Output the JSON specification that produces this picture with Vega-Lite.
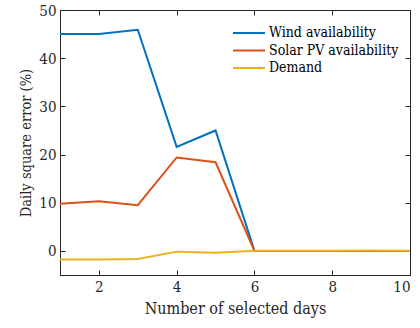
{
  "$schema": "https://vega.github.io/schema/vega-lite/v6.json",
  "autosize": {"type": "none"},
  "padding": {"left": 60, "top": 10, "right": 10, "bottom": 53},
  "width": 350,
  "height": 265,
  "config": {
    "font": "DejaVu Serif Condensed",
    "view": {"stroke": "#262626", "strokeWidth": 1},
    "axis": {
      "labelFont": "DejaVu Serif Condensed",
      "titleFont": "DejaVu Serif Condensed",
      "labelFontSize": 15,
      "titleFontSize": 16,
      "titleFontWeight": "normal",
      "labelColor": "#262626",
      "titleColor": "#262626",
      "domainColor": "#262626",
      "tickColor": "#262626",
      "tickSize": -5,
      "grid": false,
      "labelPadding": 9
    },
    "legend": {
      "labelFont": "DejaVu Serif Condensed"
    }
  },
  "data": {
    "values": [
      {"series": "Wind availability", "days": 1, "value": 45.0},
      {"series": "Wind availability", "days": 2, "value": 45.0},
      {"series": "Wind availability", "days": 3, "value": 45.9},
      {"series": "Wind availability", "days": 4, "value": 21.6},
      {"series": "Wind availability", "days": 5, "value": 25.0},
      {"series": "Wind availability", "days": 6, "value": 0.0},
      {"series": "Wind availability", "days": 7, "value": 0.0},
      {"series": "Wind availability", "days": 8, "value": 0.0},
      {"series": "Wind availability", "days": 9, "value": 0.0},
      {"series": "Wind availability", "days": 10, "value": 0.0},
      {"series": "Solar PV availability", "days": 1, "value": 9.8},
      {"series": "Solar PV availability", "days": 2, "value": 10.3},
      {"series": "Solar PV availability", "days": 3, "value": 9.5},
      {"series": "Solar PV availability", "days": 4, "value": 19.4},
      {"series": "Solar PV availability", "days": 5, "value": 18.4},
      {"series": "Solar PV availability", "days": 6, "value": 0.0},
      {"series": "Solar PV availability", "days": 7, "value": 0.0},
      {"series": "Solar PV availability", "days": 8, "value": 0.0},
      {"series": "Solar PV availability", "days": 9, "value": 0.0},
      {"series": "Solar PV availability", "days": 10, "value": 0.0},
      {"series": "Demand", "days": 1, "value": -1.8},
      {"series": "Demand", "days": 2, "value": -1.8},
      {"series": "Demand", "days": 3, "value": -1.7},
      {"series": "Demand", "days": 4, "value": -0.15},
      {"series": "Demand", "days": 5, "value": -0.4},
      {"series": "Demand", "days": 6, "value": 0.05},
      {"series": "Demand", "days": 7, "value": 0.05},
      {"series": "Demand", "days": 8, "value": 0.05},
      {"series": "Demand", "days": 9, "value": 0.1},
      {"series": "Demand", "days": 10, "value": 0.05}
    ]
  },
  "resolve": {"axis": {"x": "independent", "y": "independent"}},
  "layer": [
    {
      "mark": {"type": "line", "strokeWidth": 2, "clip": true},
      "encoding": {
        "x": {
          "field": "days", "type": "quantitative",
          "scale": {"domain": [1, 10], "nice": false, "zero": false},
          "axis": {"title": "Number of selected days", "values": [2, 4, 6, 8, 10], "titlePadding": 6}
        },
        "y": {
          "field": "value", "type": "quantitative",
          "scale": {"domain": [-5, 50], "nice": false, "zero": false},
          "axis": {"title": "Daily square error (%)", "values": [0, 10, 20, 30, 40, 50], "titlePadding": 5, "titleFontSize": 14.5}
        },
        "color": {
          "field": "series", "type": "nominal",
          "scale": {"domain": ["Wind availability", "Solar PV availability", "Demand"], "range": ["#0072BD", "#D95319", "#EDB120"]},
          "legend": {
            "title": null,
            "orient": "none",
            "legendX": 172,
            "legendY": 15,
            "symbolType": "stroke",
            "symbolSize": 1024,
            "symbolStrokeWidth": 2,
            "labelFont": "DejaVu Serif Condensed",
            "labelFontSize": 14,
            "labelColor": "#000000",
            "clipHeight": 16,
            "rowPadding": 1.5,
            "labelOffset": 3
          }
        },
        "order": {"field": "days"}
      }
    },
    {
      "mark": {"type": "line", "opacity": 0},
      "encoding": {
        "x": {"field": "days", "type": "quantitative", "axis": {"orient": "top", "labels": false, "title": null, "values": [2, 4, 6, 8, 10]}},
        "y": {"field": "value", "type": "quantitative", "axis": {"orient": "right", "labels": false, "title": null, "values": [0, 10, 20, 30, 40, 50]}}
      }
    }
  ]
}
